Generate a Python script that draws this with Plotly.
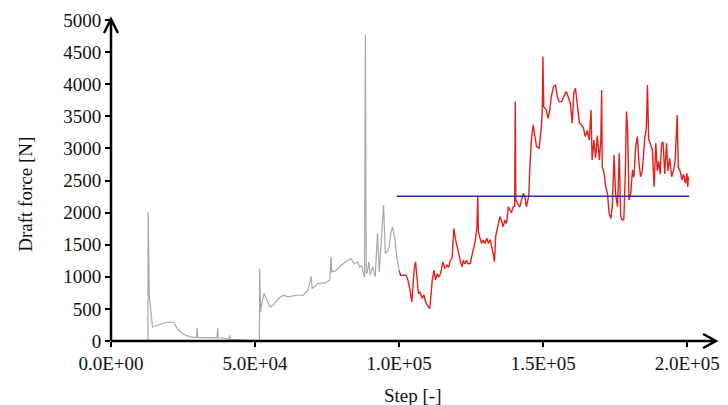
import plotly.graph_objects as go

# ---------------- data ----------------
gray_step = [0, 12800, 12900, 13000, 13300, 14400, 16000, 18500, 20700, 21900, 23000, 24200,
             25900, 28200, 29700, 29900, 30100, 32800, 36800, 37000, 37200, 38500, 41000,
             41200, 41400, 44300, 47700, 50600, 51500, 51600, 51900, 52400, 53100, 54000,
             55200, 56300, 58100, 59800, 61500, 64400, 66700, 68400, 69500, 69800, 71800,
             74200, 75900, 76400, 76600, 78200, 79900, 81600, 83300, 84500, 85600, 86300,
             87000, 87600, 88000, 88300, 88600, 89000, 89500, 90000, 90800, 91700, 92500,
             93100, 93900, 94600, 95200, 95800, 96500, 97100, 97700, 98600, 99200, 100000]
gray_force = [0, 0, 2013, 1180, 700, 218, 245, 280, 296, 280, 193, 140,
              89, 57, 57, 203, 57, 50, 50, 203, 50, 47, 30,
              89, 25, 20, 5, 0, 0, 1130, 452, 600, 740, 648,
              530, 556, 661, 713, 687, 713, 713, 791, 1009, 817, 895,
              900, 947, 1310, 1076, 1100, 1181, 1233, 1285, 1200, 1233, 1150,
              1180, 1051, 1000, 4770, 1050, 1077, 1233, 1025, 1155, 1000, 1675,
              1077, 1571, 2117, 1363, 1389, 1466, 1675, 1779, 1571, 1310, 1100]

red_step = [100000, 100500, 102300, 102900, 103700, 104400, 104800, 105200, 105700, 106200,
            106700, 107300, 108000, 108600, 109200, 109800, 110600, 111100, 111500, 112100,
            112600, 113200, 113800, 114400, 115200, 115800, 116600, 117200, 117800, 118400,
            119000, 119500, 120100, 120700, 121200, 121800, 122300, 122800, 123400, 124000,
            124700, 125200, 125800, 126400, 127000, 127300, 127500, 128100, 128600, 129200,
            129800, 130400, 131000, 131600, 132200, 132700, 133100, 133500, 134200, 135000,
            135500, 136100, 136700, 137300, 137900, 138500, 139000, 139600, 140100, 140300,
            140500, 141200, 141900, 142500, 143100, 143600, 144200, 144700, 145000, 145300,
            145900, 146500, 147100, 147700, 148600, 149400, 149700, 149900, 150200, 151100,
            151700, 152300, 152800, 153600, 154300, 154900, 155500, 156400, 157400, 158000,
            158700, 159400, 160100, 160600, 161200, 161900, 162600, 163300, 164000, 164600,
            165300, 166000, 166600, 167000, 167600, 168200, 168800, 169500, 170000, 170300,
            170500, 171200, 171700, 172300, 172900, 173500, 174000, 174600, 175100, 175800,
            176400, 176900, 177500, 178000, 178500, 178900, 179300, 179800, 180400, 181000,
            181500, 182100, 182700, 183200, 183800, 184400, 185300, 185800, 186200, 186600,
            187200, 187900, 188500, 189100, 189600, 190100, 190600, 191100, 191600, 192200,
            192800, 193300, 193900, 194600, 195200, 195800, 196500, 196900, 197500, 198200,
            198700, 199400, 199900, 200200, 200400]
red_force = [1100, 1025, 1025, 973, 817, 609, 850, 1103, 1233, 900,
             740, 760, 661, 720, 609, 557, 505, 740, 947, 1103,
             950, 1050, 998, 1050, 1233, 1130, 1181, 1150, 1259, 1300,
             1753, 1600, 1466, 1310, 1250, 1155, 1259, 1200, 1259, 1200,
             1207, 1320, 1466, 1550, 1779, 2257, 1700, 1571, 1519, 1571,
             1519, 1600, 1520, 1580, 1466, 1350, 1233, 1623, 1779, 1935,
             1880, 1779, 1883, 1830, 2091, 2040, 2000, 2091, 2100, 3729,
             2195, 2140, 2091, 2200, 2299, 2250, 2091, 2200, 2247, 2637,
             3131, 3365, 3183, 3027, 3001, 3339, 3599, 4430, 3650, 3599,
             3469, 3600, 3807, 3963, 3990, 3800, 3729, 3729, 3833, 3885,
             3800, 3703, 3391, 3859, 3937, 3650, 3391, 3370, 3313, 3183,
             3280, 3131, 3599, 2819, 3131, 2850, 3200, 2819, 3131, 3911,
             2715, 2600, 2403, 2299, 1987, 1909, 2100, 2897, 2300, 2091,
             2923, 1935, 1883, 1900, 2600, 3573, 3300, 2195, 2300, 2663,
             2550, 3027, 3183, 2800, 2559, 2650, 3183, 3300, 3989, 3150,
             3050, 2975, 2403, 3079, 2650, 2800, 2600, 3079, 3100, 2600,
             3079, 2650, 2850, 2559, 2650, 2800, 3521, 2700, 2650, 2507,
             2600, 2455, 2611, 2400, 2560]

mean_step = [99100, 200700]
mean_force = [2255, 2255]

x_tickvals = [0, 50000, 100000, 150000, 200000]
x_ticktext = ["0.0E+00", "5.0E+04", "1.0E+05", "1.5E+05", "2.0E+05"]
y_tickvals = [0, 500, 1000, 1500, 2000, 2500, 3000, 3500, 4000, 4500, 5000]

# ---------------- figure ----------------
FONT = "Liberation Serif"
W, H = 728, 405
ML, MR, MT, MB = 111, 8, 20, 64
pw, ph = W - ML - MR, H - MT - MB
x_end = 200000 * pw / (692 - ML)

fig = go.Figure()
fig.add_trace(go.Scatter(x=gray_step, y=gray_force, mode="lines",
                         line=dict(color="#a8a8a8", width=1.2), showlegend=False))
fig.add_trace(go.Scatter(x=red_step, y=red_force, mode="lines",
                         line=dict(color="#e2211c", width=1.4), showlegend=False))
fig.add_trace(go.Scatter(x=mean_step, y=mean_force, mode="lines",
                         line=dict(color="#2b2bb5", width=1.6), showlegend=False))


def px2paper(px, py):
    return (px - ML) / pw, (H - MB - py) / ph


# axis arrows
ytip = px2paper(111, 19)
yl = px2paper(104, 33)
yr = px2paper(118, 33)
xtip = px2paper(721, 341)
xu = px2paper(708, 334)
xd = px2paper(708, 348)
shapes = [
    dict(type="path", xref="paper", yref="paper",
         path=f"M {yl[0]},{yl[1]} L {ytip[0]},{ytip[1]} L {yr[0]},{yr[1]} M 0,0 L 0,{ytip[1]}",
         line=dict(color="black", width=2.5)),
    dict(type="path", xref="paper", yref="paper",
         path=f"M {xu[0]},{xu[1]} L {xtip[0]},{xtip[1]} L {xd[0]},{xd[1]} M 0,0 L {xtip[0]},0",
         line=dict(color="black", width=2.5)),
]

annotations = [
    dict(text="Step [-]", xref="paper", yref="paper",
         x=px2paper(416, 0)[0], y=px2paper(0, 395)[1], showarrow=False,
         font=dict(family=FONT, size=19, color="#111"), xanchor="center", yanchor="middle"),
    dict(text="Draft force [N]", xref="paper", yref="paper",
         x=px2paper(24, 0)[0], y=px2paper(0, 194)[1], showarrow=False, textangle=-90,
         font=dict(family=FONT, size=19, color="#111"), xanchor="center", yanchor="middle"),
]

fig.update_layout(
    width=W, height=H,
    margin=dict(l=ML, r=MR, t=MT, b=MB),
    paper_bgcolor="white", plot_bgcolor="white",
    font=dict(family=FONT, size=19, color="#111"),
    shapes=shapes, annotations=annotations,
    xaxis=dict(range=[0, x_end], tickvals=x_tickvals, ticktext=x_ticktext,
               showgrid=False, zeroline=False, showline=False,
               ticks="outside", ticklen=5, tickwidth=2, tickcolor="black",
               tickfont=dict(family=FONT, size=19, color="#111")),
    yaxis=dict(range=[0, 5000], tickvals=y_tickvals,
               showgrid=False, zeroline=False, showline=False,
               ticks="outside", ticklen=5, tickwidth=2, tickcolor="black",
               ticksuffix="\u00a0",
               tickfont=dict(family=FONT, size=19, color="#111")),
)

fig.write_html("out.html")
